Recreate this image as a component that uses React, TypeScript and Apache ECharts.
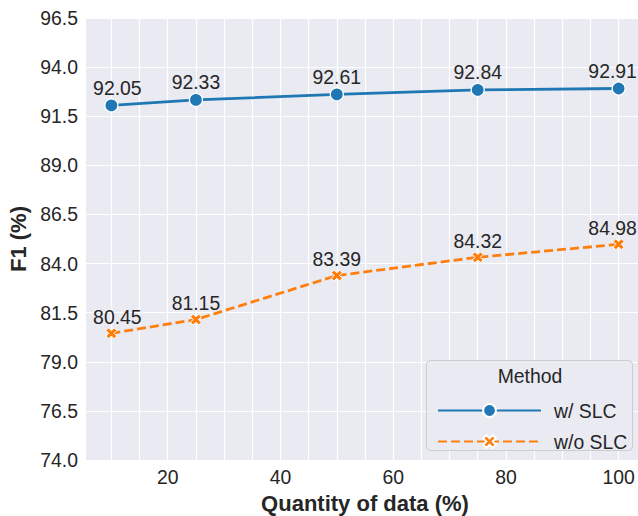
import React, { useEffect, useRef } from "react";
import * as echarts from "echarts";

const xValues = [10, 25, 50, 75, 100];
const withSLC = [92.05, 92.33, 92.61, 92.84, 92.91];
const withoutSLC = [80.45, 81.15, 83.39, 84.32, 84.98];
const xTickLabels = [20, 40, 60, 80, 100];
const xGridValues = [10, 15, 20, 25, 30, 35, 40, 45, 50, 55, 60, 65, 70, 75, 80, 85, 90, 95, 100];
const seriesNames = ["w/ SLC", "w/o SLC"];

const FONT = "'Liberation Sans', Arial, sans-serif";
const TEXT = "#262626";
const X_PATH =
  "path://M0,1.5 L1.5,0 L3,1.5 L4.5,0 L6,1.5 L4.5,3 L6,4.5 L4.5,6 L3,4.5 L1.5,6 L0,4.5 L1.5,3 Z";

export default function App() {
  const ref = useRef<HTMLDivElement>(null);
  useEffect(() => {
    document.body.style.margin = "0";
    document.body.style.overflow = "hidden";
    const chart = echarts.init(ref.current!, null, { renderer: "svg" });
    const labelFor = (i: number) => ({
      show: true,
      position: "top",
      distance: 1,
      offset: [i === 0 ? 6 : i === xValues.length - 1 ? -6 : 0, 0],
      fontFamily: FONT,
      fontSize: 19.4,
      color: TEXT,
    });
    chart.setOption({
      animation: false,
      backgroundColor: "#ffffff",
      grid: {
        left: 86,
        right: -6,
        top: 18,
        bottom: 56,
        outerBoundsMode: "none",
        containLabel: false,
        show: true,
        backgroundColor: "#eaeaf2",
        borderWidth: 0,
      },
      xAxis: {
        type: "value",
        min: 5.5,
        max: 104.5,
        name: "Quantity of data (%)",
        nameLocation: "middle",
        nameGap: 32,
        nameTextStyle: { fontFamily: FONT, fontSize: 22, fontWeight: "bold", color: TEXT },
        axisLine: { show: false },
        axisTick: { show: false, customValues: xGridValues },
        axisLabel: {
          customValues: xTickLabels,
          fontFamily: FONT,
          fontSize: 19.4,
          color: TEXT,
          margin: 7,
        },
        splitLine: { show: true, lineStyle: { color: "#ffffff", width: 1.2 } },
      },
      yAxis: {
        type: "value",
        min: 74,
        max: 96.5,
        interval: 2.5,
        name: "F1 (%)",
        nameLocation: "middle",
        nameGap: 56,
        nameTextStyle: { fontFamily: FONT, fontSize: 22, fontWeight: "bold", color: TEXT },
        axisLine: { show: false },
        axisTick: { show: false },
        axisLabel: {
          fontFamily: FONT,
          fontSize: 19.4,
          color: TEXT,
          margin: 8,
          formatter: (v: number) => v.toFixed(1),
        },
        splitLine: { show: true, lineStyle: { color: "#ffffff", width: 1.2 } },
      },
      legend: {
        orient: "vertical",
        left: 432,
        top: 396,
        itemWidth: 103,
        itemHeight: 16,
        itemGap: 12,
        z: 10,
        data: seriesNames,
        textStyle: { fontFamily: FONT, fontSize: 19.4, color: TEXT, padding: [0, 0, 0, 8] },
      },
      graphic: [
        {
          type: "rect",
          z: 5,
          shape: { x: 426.5, y: 360.5, width: 206, height: 90, r: 4 },
          style: { fill: "rgba(234,234,242,0.85)", stroke: "#cccccc", lineWidth: 1 },
        },
        {
          type: "text",
          z: 6,
          x: 530,
          y: 376,
          style: {
            text: "Method",
            fontFamily: FONT,
            fontSize: 19.4,
            fill: TEXT,
            align: "center",
            verticalAlign: "middle",
          },
        },
      ],
      series: [
        {
          name: seriesNames[0],
          type: "line",
          data: xValues.map((x, i) => ({ value: [x, withSLC[i]], label: labelFor(i) })),
          symbol: "circle",
          symbolSize: 13,
          color: "#1f77b4",
          itemStyle: { color: "#1f77b4", borderColor: "#ffffff", borderWidth: 1.3 },
          lineStyle: { color: "#1f77b4", width: 2.8 },
          z: 3,
        },
        {
          name: seriesNames[1],
          type: "line",
          data: xValues.map((x, i) => ({ value: [x, withoutSLC[i]], label: labelFor(i) })),
          symbol: X_PATH,
          symbolSize: 11,
          color: "#ff7f0e",
          itemStyle: { color: "#ff7f0e", borderColor: "#ffffff", borderWidth: 1 },
          lineStyle: { color: "#ff7f0e", width: 2.8, type: [9, 4] },
          z: 3,
        },
      ],
    });
    return () => chart.dispose();
  }, []);
  return <div ref={ref} style={{ width: 638, height: 516 }} />;
}
